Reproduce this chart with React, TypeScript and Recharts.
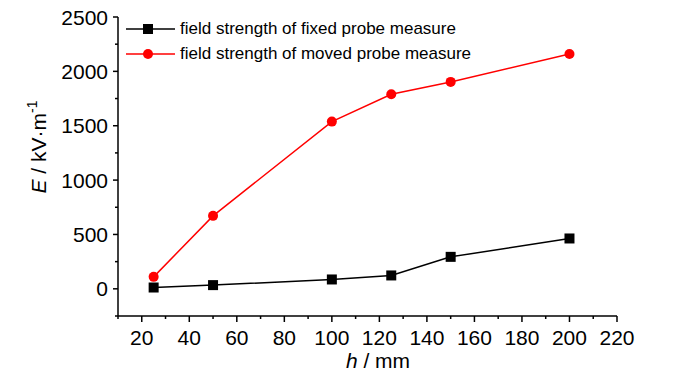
import React from 'react';
import { LineChart, Line, XAxis, YAxis, Legend } from 'recharts';

const heights = [25, 50, 100, 125, 150, 200];
const fixedProbe = [12, 34, 86, 123, 294, 463];
const movedProbe = [110, 671, 1538, 1790, 1903, 2160];

const xTicks = [10, 20, 30, 40, 50, 60, 70, 80, 90, 100, 110, 120, 130, 140, 150, 160, 170, 180, 190, 200, 210, 220];
const xLabels = [20, 40, 60, 80, 100, 120, 140, 160, 180, 200, 220];
const yTicks = [-250, 0, 250, 500, 750, 1000, 1250, 1500, 1750, 2000, 2250, 2500];
const yLabels = [0, 500, 1000, 1500, 2000, 2500];

const seriesNames = {
  fixed: 'field strength of fixed probe measure',
  moved: 'field strength of moved probe measure',
};

const data = heights.map((h, i) => ({ h, fixed: fixedProbe[i], moved: movedProbe[i] }));

const FONT = '"Liberation Sans", Arial, sans-serif';

function XTick({ x, y, payload }: any) {
  const major = xLabels.includes(payload.value);
  return (
    <g>
      <line x1={x} x2={x} y1={y} y2={y + (major ? 6 : 3)} stroke="#000" strokeWidth={1.5} />
      {major && (
        <text x={x} y={y + 29} textAnchor="middle" fontSize={21} fill="#000" fontFamily={FONT}>
          {payload.value}
        </text>
      )}
    </g>
  );
}

function YTick({ x, y, payload }: any) {
  const major = yLabels.includes(payload.value);
  return (
    <g>
      <line x1={x} x2={x - (major ? 5 : 3)} y1={y} y2={y} stroke="#000" strokeWidth={1.5} />
      {major && (
        <text x={x - 10} y={y + 7.5} textAnchor="end" fontSize={21} fill="#000" fontFamily={FONT}>
          {payload.value}
        </text>
      )}
    </g>
  );
}

function Square({ cx, cy, fill }: any) {
  if (cx == null || cy == null) return null;
  return <rect x={cx - 5} y={cy - 5} width={10} height={10} fill={fill} />;
}

function LegendBox({ payload }: any) {
  return (
    <div style={{ fontFamily: FONT, fontSize: 17, color: '#000', lineHeight: '25px' }}>
      {payload.map((p: any) => (
        <div key={p.dataKey} style={{ display: 'flex', alignItems: 'center' }}>
          <svg width={54} height={14}>
            <line x1={0} x2={49} y1={7} y2={7} stroke={p.color} strokeWidth={1.5} />
            {p.dataKey === 'fixed' ? (
              <rect x={17} y={2} width={10} height={10} fill={p.color} />
            ) : (
              <circle cx={22} cy={7} r={5} fill={p.color} />
            )}
          </svg>
          <span>{p.value}</span>
        </div>
      ))}
    </div>
  );
}

export default function App() {
  return (
    <div style={{ position: 'absolute', left: 0, top: 0, background: '#fff' }}>
      <LineChart width={700} height={374} data={data} margin={{ top: 17, right: 83, left: 0, bottom: 0 }}>
        <XAxis
          dataKey="h"
          type="number"
          domain={[10, 220]}
          ticks={xTicks}
          interval={0}
          tickLine={false}
          tickSize={0}
          tickMargin={0}
          tick={<XTick />}
          height={58}
          stroke="#000"
          strokeWidth={1.5}
        />
        <YAxis
          type="number"
          domain={[-250, 2500]}
          ticks={yTicks}
          interval={0}
          tickLine={false}
          tickSize={0}
          tickMargin={0}
          tick={<YTick />}
          width={118}
          stroke="#000"
          strokeWidth={1.5}
        />
        <Legend
          layout="vertical"
          verticalAlign="middle"
          align="center"
          content={<LegendBox />}
          wrapperStyle={{ left: 126, top: 16, width: 'auto', height: 'auto' }}
        />
        <Line
          dataKey="fixed"
          name={seriesNames.fixed}
          stroke="#000"
          strokeWidth={1.5}
          dot={<Square fill="#000" />}
          activeDot={false}
          isAnimationActive={false}
        />
        <Line
          dataKey="moved"
          name={seriesNames.moved}
          stroke="#ff0000"
          strokeWidth={1.5}
          dot={{ r: 5, fill: '#ff0000', stroke: 'none' }}
          activeDot={false}
          isAnimationActive={false}
        />
        <text x={46} y={147} transform="rotate(-90 46 147)" textAnchor="middle" fontSize={21} fontFamily={FONT} fill="#000">
          <tspan fontStyle="italic">E</tspan>
          <tspan> / kV·m</tspan>
          <tspan dy={-9} fontSize={14}>-1</tspan>
        </text>
        <text x={378} y={368} textAnchor="middle" fontSize={21} fontFamily={FONT} fill="#000">
          <tspan fontStyle="italic">h</tspan>
          <tspan> / mm</tspan>
        </text>
      </LineChart>
    </div>
  );
}
